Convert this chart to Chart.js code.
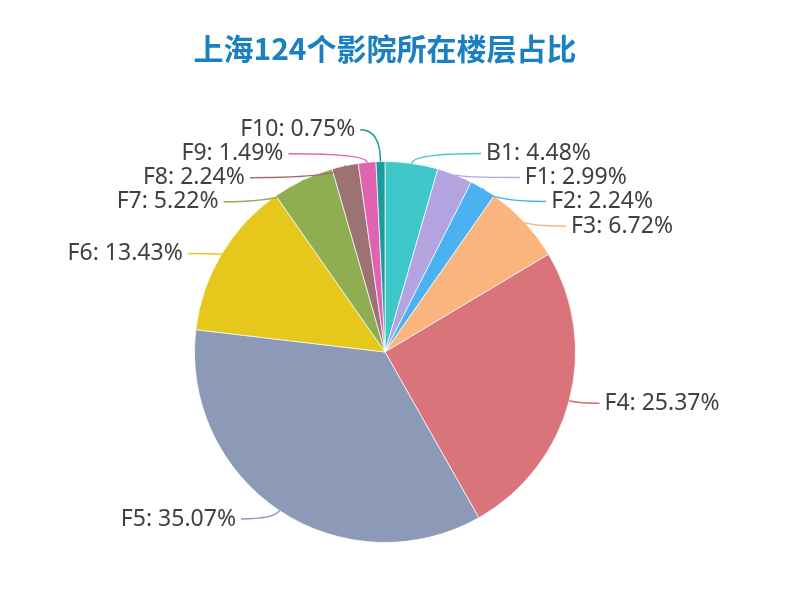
<!DOCTYPE html>
<html>
<head>
<meta charset="utf-8">
<script src="https://cdn.jsdelivr.net/npm/chart.js@4/dist/chart.umd.min.js"></script>
<style>
  html, body { margin: 0; padding: 0; background: #fff; }
  #wrap { width: 800px; height: 593px; }
</style>
</head>
<body>
<div id="wrap"><canvas id="chart"></canvas></div>
<script>
const floors = ["B1", "F1", "F2", "F3", "F4", "F5", "F6", "F7", "F8", "F9", "F10"];
const shares = [4.48, 2.99, 2.24, 6.72, 25.37, 35.07, 13.43, 5.22, 2.24, 1.49, 0.75];
const colors = [
  "#3ec8ca", "#b4a3e1", "#4cb1f1", "#fab57f", "#da747b", "#8d9ab7",
  "#e5c81b", "#8fae52", "#9d7272", "#e063b2", "#1d9a9c",
];

// leader-line labels, laid out the way the original pie tool does it
const leaderLabels = {
  id: "leaderLabels",
  afterDatasetsDraw(chart, args, opts) {
    const arcs = chart.getDatasetMeta(0).data;
    if (!arcs.length) return;
    const len = opts.len, len2 = opts.len2, h = opts.lineHeight;
    const first = arcs[0].getProps(["x", "y", "outerRadius"], true);
    const cx = first.x, cy = first.y, r = first.outerRadius;

    const items = arcs.map((arc, i) => {
      const p = arc.getProps(["startAngle", "endAngle"], true);
      const mid = (p.startAngle + p.endAngle) / 2;
      const dx = Math.cos(mid), dy = Math.sin(mid);
      const dir = dx < 0 ? -1 : 1;
      const x2 = cx + (r + len) * dx;
      const y2 = cy + (r + len) * dy;
      return {
        i, dir,
        x1: cx + r * dx, y1: cy + r * dy,
        x2, y2,
        x: x2 + dir * len2, y: y2,
      };
    });

    const adjustSide = (list, dir) => {
      list.sort((a, b) => a.y - b.y);
      const shiftUp = (end, delta) => {
        for (let j = end; j >= 0; j--) {
          list[j].y -= delta;
          if (j > 0 && list[j].y > list[j - 1].y + h) break;
        }
      };
      const shiftDown = (start, end, delta) => {
        for (let j = start; j < end; j++) {
          list[j].y += delta;
          if (j > start && j + 1 < end && list[j + 1].y > list[j].y + h) {
            shiftUp(j, delta / 2);
            return;
          }
        }
        shiftUp(end - 1, delta / 2);
      };
      let lastY = -Infinity;
      for (let i = 0; i < list.length; i++) {
        const delta = list[i].y - lastY;
        if (delta < 0) shiftDown(i, list.length, -delta);
        lastY = list[i].y + h;
      }
      const changeX = (sub, isDown) => {
        let lastDX = isDown ? Number.MAX_VALUE : 0;
        sub.forEach((it) => {
          const dY = Math.abs(it.y - cy);
          let dX = dY < r + len
            ? Math.sqrt((r + len + len2) ** 2 - dY * dY)
            : Math.abs(it.x - cx);
          if (isDown && dX >= lastDX) dX = lastDX - 10;
          if (!isDown && dX <= lastDX) dX = lastDX + 10;
          it.x = cx + dX * dir;
          lastDX = dX;
        });
      };
      changeX(list.filter((it) => it.y <= cy), false);
      changeX(list.filter((it) => it.y > cy), true);
    };

    adjustSide(items.filter((it) => it.dir < 0), -1);
    adjustSide(items.filter((it) => it.dir > 0), 1);

    const ctx = chart.ctx;
    ctx.save();
    ctx.font = opts.font;
    ctx.textBaseline = "middle";
    items.forEach((it) => {
      ctx.strokeStyle = colors[it.i];
      ctx.lineWidth = 1.5;
      ctx.beginPath();
      ctx.moveTo(it.x1, it.y1);
      ctx.quadraticCurveTo(it.x2, it.y, it.x, it.y);
      ctx.stroke();
      ctx.fillStyle = opts.color;
      ctx.textAlign = it.dir < 0 ? "right" : "left";
      ctx.fillText(floors[it.i] + ": " + shares[it.i].toFixed(2) + "%", it.x + it.dir * 5, it.y);
    });
    ctx.restore();
  },
};

new Chart(document.getElementById("chart"), {
  type: "pie",
  data: {
    labels: floors,
    datasets: [{
      data: shares,
      backgroundColor: colors,
      borderColor: "rgba(255,255,255,0.7)",
      borderWidth: 1,
    }],
  },
  options: {
    responsive: true,
    maintainAspectRatio: false,
    animation: false,
    events: [],
    layout: { padding: { left: 0, right: 30, top: 0, bottom: 50 } },
    plugins: {
      legend: { display: false },
      tooltip: { enabled: false },
      title: {
        display: true,
        text: "上海124个影院所在楼层占比",
        color: "#1a80c2",
        font: { family: "'Noto Sans CJK SC', sans-serif", size: 30, weight: "bold" },
        padding: { top: 31, bottom: 94 },
      },
      leaderLabels: {
        len: 10,
        len2: 20,
        lineHeight: 24,
        color: "#404040",
        font: "23px 'Noto Sans', sans-serif",
      },
    },
  },
  plugins: [leaderLabels],
});
</script>
</body>
</html>
